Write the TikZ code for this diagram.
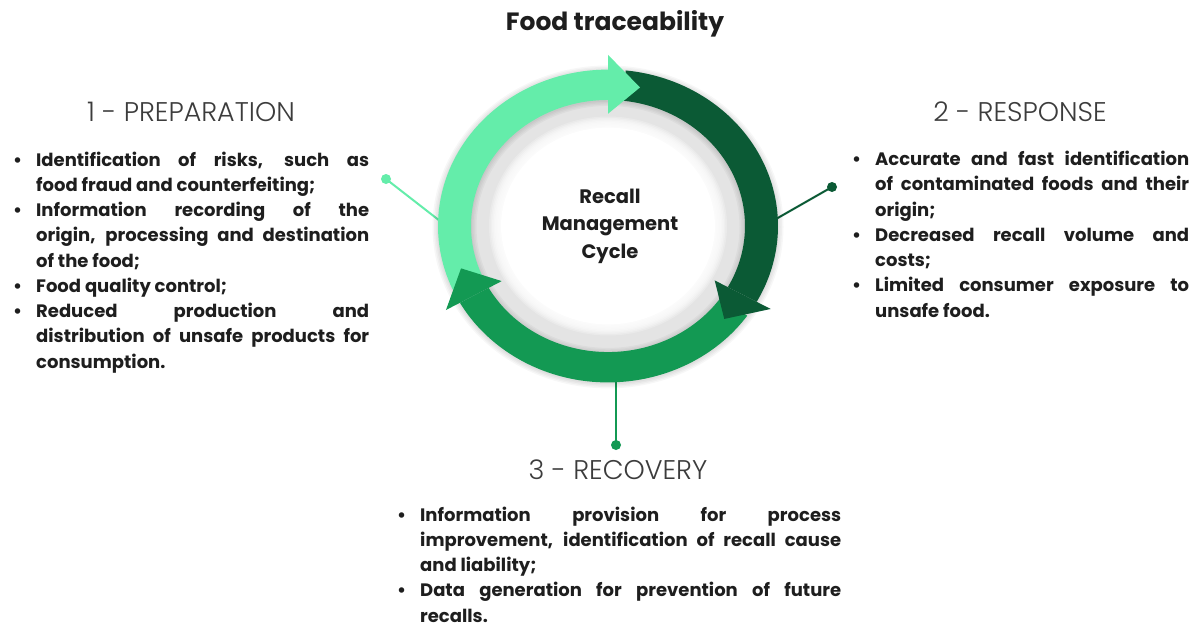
\documentclass[tikz,border=0pt]{standalone}
\usepackage{fontspec}
\setmainfont{Poppins}
\newfontfamily\lightfont{Poppins Light}

\definecolor{lightg}{HTML}{64EDAA}
\definecolor{darkg}{HTML}{0B5A35}
\definecolor{midg}{HTML}{139953}
\definecolor{ringgray}{HTML}{E4E4E4}
\definecolor{ink}{HTML}{1E1E1E}
\definecolor{headc}{HTML}{3C3C3C}

% bullet lines: justified (j) or ragged (l), first line of an item or continuation
\newcommand\jitem[2]{\makebox[23pt][l]{\textbullet}\makebox[#1][s]{#2}}
\newcommand\jcont[2]{\hspace*{23pt}\makebox[#1][s]{#2}}
\newcommand\litem[1]{\makebox[23pt][l]{\textbullet}#1}
\newcommand\lcont[1]{\hspace*{23pt}#1}

\begin{document}
\begin{tikzpicture}[x=1pt,y=-1pt,
  textblock/.style={anchor=base west, align=left, inner sep=0pt, text=ink,
    font=\bfseries\fontsize{18}{25.25}\selectfont},
  head/.style={inner sep=0pt, text=headc, font=\lightfont\fontsize{27}{30}\selectfont},
  dot/.style={circle, inner sep=0pt, minimum size=10pt},
  link/.style={line width=2pt}]

\useasboundingbox (0,0) rectangle (1200,624);
\fill[white] (0,0) rectangle (1200,624);

% connector end points on the ring
\coordinate (e1) at (440,221);
\coordinate (e2) at (776,219);
\coordinate (e3) at (616,380);

\node[dot, fill=lightg] (d1) at (386,179) {};
\node[dot, fill=darkg] (d2) at (832,187) {};
\node[dot, fill=midg] (d3) at (616,445) {};

\draw[link, lightg] (d1.center) -- (e1);
\draw[link, darkg] (d2.center) -- (e2);
\draw[link, midg] (d3.center) -- (e3);

% the cycle
\begin{scope}[shift={(608,226)}, yscale=-0.92]
  \fill[ringgray] (0,0) circle[radius=150];
  \foreach \r in {119,117.5,116,114.5,113,111.5,110,108.5}
    \fill[white, opacity=0.25] (0,0) circle[radius=\r];
  \fill[white] (0,0) circle[radius=107];

  % soft shadow under the ring
  \foreach \d in {1,2.5,4,5.5}
    \fill[black, opacity=0.03, even odd rule]
      (0,-1) circle[radius=170+\d] (0,-1) circle[radius=137-\d];

  % ring bodies
  \fill[lightg] (204:170) arc[start angle=204, end angle=90, radius=170]
     -- (90:137) arc[start angle=90, end angle=204, radius=137] -- cycle;
  \fill[darkg] (84:170) arc[start angle=84, end angle=-29, radius=170]
     -- (-29:137) arc[start angle=-29, end angle=84, radius=137] -- cycle;
  \fill[midg] (-35:170) arc[start angle=-35, end angle=-150.6, radius=170]
     -- (-150.6:137) arc[start angle=-150.6, end angle=-35, radius=137] -- cycle;

  % arrow heads
  \fill[lightg] (90:122) -- (90:186) -- (78:154) -- cycle;
  \fill[darkg] (-29:122) -- (-29:186) -- (-41:154) -- cycle;
  \fill[midg] (-150.6:122) -- (-150.6:186) -- (-162.6:154) -- cycle;
\end{scope}

\node[align=center, text=ink, font=\bfseries\fontsize{19.5}{27.5}\selectfont] (core) at (610,226)
  {Recall\\Management\\Cycle};

\node[text=ink, font=\bfseries\fontsize{25}{28}\selectfont] (title) at (615,24) {Food traceability};

\node[head] (h1) at (191,112) {1 - PREPARATION};
\node[head] (h2) at (1020,112) {2 - RESPONSE};
\node[head] (h3) at (618,470) {3 - RECOVERY};

\node[textblock] (prep) at (13,368) {%
  \jitem{333pt}{Identification of risks, such as}\\
  \lcont{food fraud and counterfeiting;}\\
  \jitem{333pt}{Information recording of the}\\
  \jcont{333pt}{origin, processing and destination}\\
  \lcont{of the food;}\\
  \litem{Food quality control;}\\
  \jitem{333pt}{Reduced production and}\\
  \jcont{333pt}{distribution of unsafe products for}\\
  \lcont{consumption.}};

\node[textblock] (resp) at (852,317) {%
  \jitem{314pt}{Accurate and fast identification}\\
  \jcont{314pt}{of contaminated foods and their}\\
  \lcont{origin;}\\
  \jitem{314pt}{Decreased recall volume and}\\
  \lcont{costs;}\\
  \jitem{314pt}{Limited consumer exposure to}\\
  \lcont{unsafe food.}};

\node[textblock] (reco) at (397,622) {%
  \jitem{421pt}{Information provision for process}\\
  \jcont{421pt}{improvement, identification of recall cause}\\
  \lcont{and liability;}\\
  \jitem{421pt}{Data generation for prevention of future}\\
  \lcont{recalls.}};

\end{tikzpicture}
\end{document}
